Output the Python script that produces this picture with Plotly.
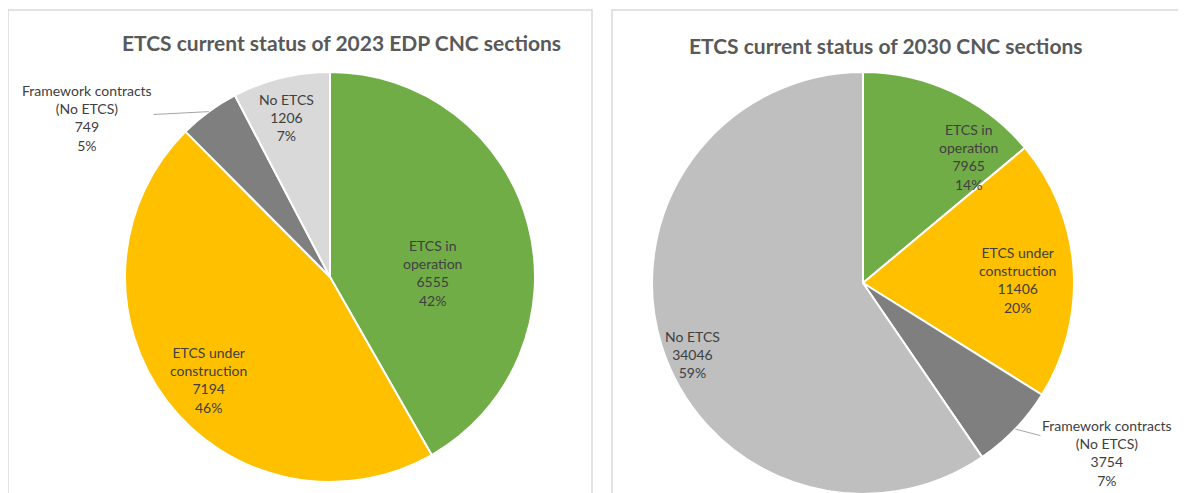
import math
import plotly.graph_objects as go

# données des deux camemberts
labels = ['ETCS in<br>operation', 'ETCS under<br>construction', 'Framework contracts<br>(No ETCS)', 'No ETCS']
values_2023 = [6555, 7194, 749, 1206]
values_2030 = [7965, 11406, 3754, 34046]
pct_2023 = ['42%', '46%', '5%', '7%']
pct_2030 = ['14%', '20%', '7%', '59%']
colors_2023 = ['#70AD47', '#FFC000', '#7F7F7F', '#D9D9D9']
colors_2030 = ['#70AD47', '#FFC000', '#7F7F7F', '#BFBFBF']
titles = ['ETCS current status of 2023 EDP CNC sections', 'ETCS current status of 2030 CNC sections']

W, H = 1186, 493
OFF = 8  # marge du body de la page
FONT = 'Lato'
TXT = '#404040'


def px(sx):
    return (sx - OFF) / W


def py(sy):
    return 1 - (sy - OFF) / H


# centre et rayon de chaque camembert (pixels de l'écran)
pies = [
    dict(values=values_2023, pct=pct_2023, colors=colors_2023, cx=330, cy=277, r=205,
         # position des étiquettes, en fraction du rayon (dx, dy vers le bas)
         lab=[(0.50, -0.02), (-0.595, 0.50), (-1.185, -0.776), (-0.21, -0.78)]),
    dict(values=values_2030, pct=pct_2030, colors=colors_2030, cx=863, cy=283, r=211,
         lab=[(0.50, -0.597), (0.73, -0.014), (1.156, 0.806), (-0.81, 0.341)]),
]

fig = go.Figure()

for p in pies:
    fig.add_trace(go.Pie(
        labels=labels, values=p['values'], sort=False, direction='clockwise', rotation=0,
        marker=dict(colors=p['colors'], line=dict(color='white', width=2)),
        textinfo='none', hoverinfo='label+value+percent', showlegend=False,
        domain=dict(x=[px(p['cx'] - p['r']), px(p['cx'] + p['r'])],
                    y=[max(py(p['cy'] + p['r']), 0), py(p['cy'] - p['r'])]),
    ))

    total = sum(p['values'])
    cum = 0
    for i, v in enumerate(p['values']):
        mid = (cum + v / 2) / total * 2 * math.pi
        cum += v
        txt = f"{labels[i]}<br>{v}<br>{p['pct'][i]}"
        tx = p['cx'] + p['lab'][i][0] * p['r']
        ty = p['cy'] + p['lab'][i][1] * p['r']
        if 'Framework' in labels[i]:
            # étiquette extérieure avec trait de rappel
            ex = p['cx'] + p['r'] * math.sin(mid)
            ey = p['cy'] - p['r'] * math.cos(mid)
            fig.add_annotation(text=txt, x=px(ex), y=py(ey), xref='paper', yref='paper',
                               ax=tx - ex, ay=ty - ey, showarrow=True, arrowhead=0,
                               arrowcolor='#A6A6A6', arrowwidth=1, standoff=0,
                               font=dict(family=FONT, size=14, color=TXT))
        else:
            fig.add_annotation(text=txt, x=px(tx), y=py(ty), xref='paper', yref='paper',
                               xanchor='center', yanchor='middle', showarrow=False,
                               font=dict(family=FONT, size=14, color=TXT))

# cadres des deux graphiques
fig.add_shape(type='rect', xref='paper', yref='paper', x0=px(8), x1=px(592), y0=-0.1, y1=py(10),
              line=dict(color='#D9D9D9', width=1.5))
fig.add_shape(type='rect', xref='paper', yref='paper', x0=px(612), x1=1.1, y0=-0.1, y1=py(10),
              line=dict(color='#D9D9D9', width=1.5))

# titres
for t, x, y in [(titles[0], 341, 43), (titles[1], 886, 46)]:
    fig.add_annotation(text=t, x=px(x), y=py(y), xref='paper', yref='paper', showarrow=False,
                       xanchor='center', yanchor='middle',
                       font=dict(family=FONT, size=21, color='#595959', weight='bold'))

fig.update_layout(
    width=W, height=H,
    margin=dict(l=0, r=0, t=0, b=0),
    paper_bgcolor='white', plot_bgcolor='white',
    font=dict(family=FONT, color=TXT),
)

fig.write_html("out.html")
